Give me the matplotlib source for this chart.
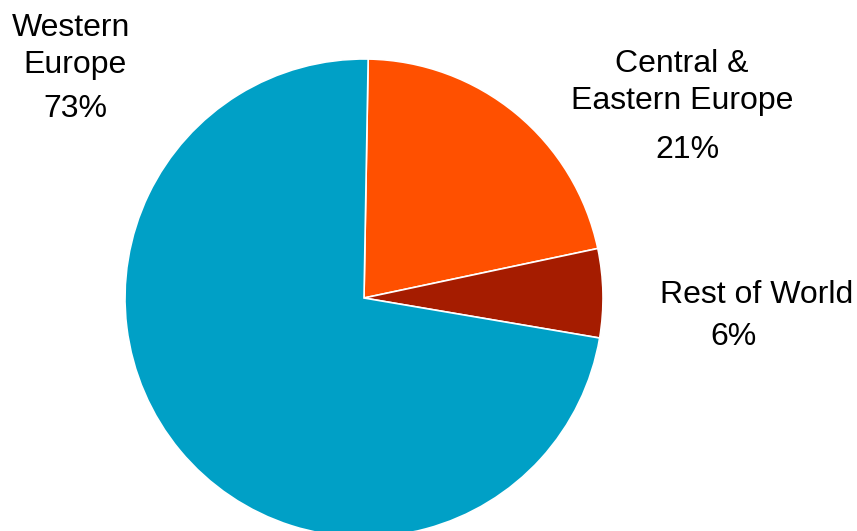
import matplotlib.pyplot as plt

plt.rcParams['font.family'] = ['Liberation Sans', 'DejaVu Sans']

regions = ['Central &\nEastern Europe', 'Rest of World', 'Western\nEurope']
shares = [21.4, 6.0, 72.6]   # wedge sizes
pct_labels = ['21%', '6%', '73%']
colors = ['#FF5000', '#A51C00', '#00A0C6']

W, H = 857, 531
fig = plt.figure(figsize=(W / 100, H / 100), dpi=100)
ax = fig.add_axes([0, 0, 1, 1])

ax.pie(shares, colors=colors, startangle=89, counterclock=False,
       center=(364, H - 298), radius=239,
       wedgeprops=dict(edgecolor='white', linewidth=1.2))
ax.set_xlim(0, W)
ax.set_ylim(0, H)
ax.axis('off')

# label lines: (text, x centre, baseline y in pixels from top)
lines = [
    ('Western', 71, 36), ('Europe', 75.5, 73), (pct_labels[2], 75.5, 117),
    ('Central &', 681.5, 72), ('Eastern Europe', 682.5, 109), (pct_labels[0], 687, 158),
    ('Rest of World', 757, 303), (pct_labels[1], 733.5, 345),
]
for txt, x, y in lines:
    ax.text(x, H - y, txt, ha='center', va='baseline', fontsize=23, color='black')

fig.savefig('out.png', dpi=100)
